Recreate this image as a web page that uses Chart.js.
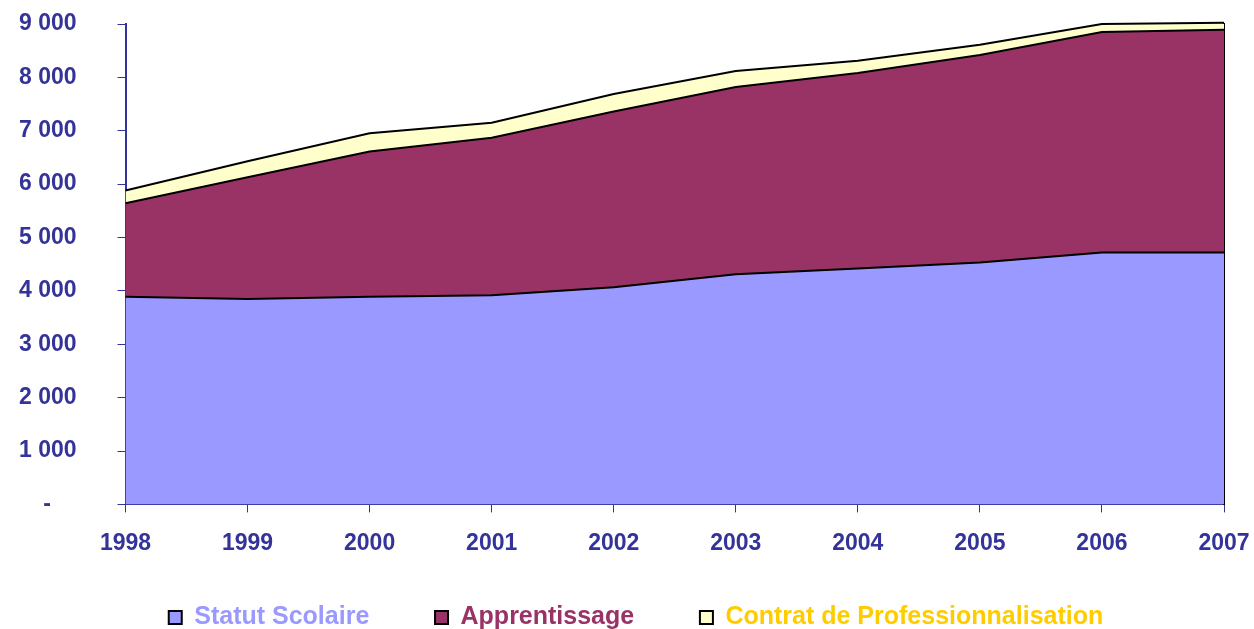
<!DOCTYPE html>
<html>
<head>
<meta charset="utf-8">
<script src="https://cdn.jsdelivr.net/npm/chart.js@4"></script>
<style>
  html, body { margin: 0; padding: 0; background: #fff; }
  #wrap { width: 1254px; height: 629px; }
</style>
</head>
<body>
<div id="wrap"><canvas id="areaChart" width="1254" height="629"></canvas></div>
<script>
// Data
const years = ['1998', '1999', '2000', '2001', '2002', '2003', '2004', '2005', '2006', '2007'];
const statutScolaire = [3890, 3850, 3890, 3920, 4070, 4310, 4420, 4530, 4720, 4720];
const apprentissage = [1750, 2280, 2720, 2950, 3290, 3510, 3660, 3890, 4130, 4170];
const contratPro = [240, 300, 345, 280, 330, 300, 230, 190, 150, 135];
const yTicks = [0, 1000, 2000, 3000, 4000, 5000, 6000, 7000, 8000, 9000];

const axisBlue = '#333399';
const legendColors = ['#9999FF', '#993366', '#FFCC00'];
const fontFamily = '"Liberation Sans", Arial, sans-serif';
// extra room after the first two legend entries (legend padding is also vertical)
const legendGap = '     ';

function fmt(v) {
    if (v === 0) return '-    ';
    return String(v).replace(/\B(?=(\d{3})+(?!\d))/g, ' ');
}

const ctx = document.getElementById('areaChart').getContext('2d');
new Chart(ctx, {
    type: 'line',
    data: {
        labels: years,
        datasets: [
            { label: 'Statut Scolaire', data: statutScolaire, backgroundColor: '#9999FF', borderColor: '#000', borderWidth: 2, fill: 'origin', pointRadius: 0, tension: 0, clip: false },
            { label: 'Apprentissage', data: apprentissage, backgroundColor: '#993366', borderColor: '#000', borderWidth: 2, fill: '-1', pointRadius: 0, tension: 0, clip: false },
            { label: 'Contrat de Professionnalisation', data: contratPro, backgroundColor: '#FFFFCC', borderColor: '#000', borderWidth: 2, fill: '-1', pointRadius: 0, tension: 0, clip: false }
        ]
    },
    options: {
        responsive: false,
        animation: false,
        layout: { padding: { top: 24, right: 0, left: 18, bottom: -11 } },
        plugins: {
            tooltip: { enabled: false },
            legend: {
                position: 'bottom',
                labels: {
                    boxWidth: 13,
                    boxHeight: 13,
                    padding: 31,
                    font: { family: fontFamily, size: 25, weight: 'bold' },
                    generateLabels: function (chart) {
                        const n = chart.data.datasets.length;
                        return chart.data.datasets.map(function (ds, i) {
                            return {
                                text: i < n - 1 ? ds.label + legendGap : ds.label,
                                fillStyle: ds.backgroundColor,
                                strokeStyle: '#000',
                                lineWidth: 2,
                                fontColor: legendColors[i],
                                datasetIndex: i
                            };
                        });
                    }
                }
            }
        },
        scales: {
            x: {
                offset: false,
                grid: { drawOnChartArea: false, color: axisBlue, tickLength: 8, tickWidth: 1 },
                border: { color: axisBlue, width: 2 },
                ticks: { color: axisBlue, padding: 17, maxRotation: 0, autoSkip: false, font: { family: fontFamily, size: 23, weight: 'bold' } },
                afterFit: function (axis) {
                    axis.paddingLeft = 0;
                    axis.paddingRight = 30;
                }
            },
            y: {
                stacked: true,
                min: 0,
                max: 9000,
                afterBuildTicks: function (axis) { axis.ticks = yTicks.map(function (v) { return { value: v }; }); },
                grid: { drawOnChartArea: false, color: axisBlue, tickLength: 8, tickWidth: 1 },
                border: { color: axisBlue, width: 2 },
                ticks: { color: axisBlue, padding: 41, callback: fmt, font: { family: fontFamily, size: 23, weight: 'bold' } },
                afterFit: function (axis) {
                    axis.width = 107.5;
                    axis.paddingTop = 0;
                    axis.paddingBottom = 0;
                }
            },
            // right edge of the last area is outlined in black
            yRight: {
                position: 'right',
                min: 0,
                max: 9000,
                grid: { display: false },
                ticks: { display: false },
                border: { color: '#000', width: 2 },
                afterFit: function (axis) {
                    axis.width = 0;
                    axis.paddingTop = 0;
                    axis.paddingBottom = 0;
                }
            }
        }
    }
});
</script>
</body>
</html>
